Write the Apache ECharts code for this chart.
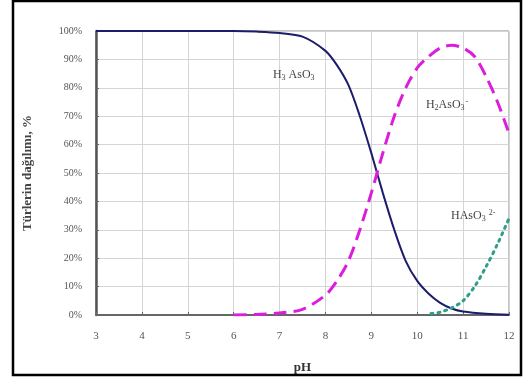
<!DOCTYPE html>
<html><head><meta charset="utf-8">
<script src="https://cdn.jsdelivr.net/npm/echarts@6/dist/echarts.min.js"></script>
<style>html,body{margin:0;padding:0;background:#fff}#c{width:523px;height:380px}</style>
</head><body><div id="c"></div>
<script>
// pH values and fraction (%)
var phH3 = [3, 4, 5, 6, 6.5, 7, 7.5, 8, 8.25, 8.5, 8.75, 9, 9.25, 9.5, 9.75, 10, 10.25, 10.5, 10.75, 11, 11.5, 12];
var valH3 = [100, 100, 100, 100, 99.8, 99.3, 98, 93, 88, 81, 70, 57, 43, 30, 19, 12, 7.5, 4.3, 2.3, 1.2, 0.4, 0.1];
var phH2 = [6, 6.5, 7, 7.5, 8, 8.25, 8.5, 8.75, 9, 9.25, 9.5, 9.75, 10, 10.25, 10.5, 10.75, 11, 11.25, 11.5, 11.75, 12];
var valH2 = [0, 0.2, 0.7, 2, 7, 12, 19, 30, 43, 57, 70, 80, 87, 91, 94, 95, 94, 91, 84, 75, 64];
var phH1 = [10.3, 10.5, 10.75, 11, 11.25, 11.5, 11.75, 12];
var valH1 = [0.5, 1, 2.5, 5, 10, 17, 25, 34];
var yTicks = [0, 10, 20, 30, 40, 50, 60, 70, 80, 90, 100];

function pairs(xs, ys) { return xs.map(function (x, i) { return [x, ys[i]]; }); }

var serif = '"Liberation Serif", "DejaVu Serif", serif';
var chart = echarts.init(document.getElementById('c'));
var richLab = {
  b: { fontFamily: serif, fontSize: 12, color: '#444' },
  s: { fontFamily: serif, fontSize: 8, color: '#444', verticalAlign: 'bottom', padding: [6, 0, 0, 0] },
  p: { fontFamily: serif, fontSize: 8, color: '#444', verticalAlign: 'top', padding: [0, 0, 6, 1] }
};
function lbl(coord, text) {
  return {
    symbol: 'rect', symbolSize: 1, itemStyle: { color: 'rgba(0,0,0,0)' },
    label: { show: true, formatter: text, rich: richLab, position: 'inside', color: '#444' },
    data: [{ coord: coord }]
  };
}
chart.setOption({
  animation: false,
  grid: { left: 96, right: 14, top: 31, bottom: 65, show: true, borderColor: '#888', borderWidth: 1 },
  graphic: [{ type: 'rect', shape: { x: 13, y: 1, width: 508, height: 374 },
    style: { fill: 'none', stroke: '#000', lineWidth: 2.5 }, silent: true }],
  xAxis: {
    type: 'value', min: 3, max: 12, interval: 1,
    name: 'pH', nameLocation: 'middle', nameGap: 46,
    nameTextStyle: { fontFamily: serif, fontWeight: 'bold', fontSize: 13, color: '#333' },
    axisLine: { lineStyle: { color: '#666', width: 2 } },
    axisTick: { inside: true, length: 3, lineStyle: { color: '#666' } },
    axisLabel: { fontFamily: serif, fontSize: 11, color: '#555', margin: 16 },
    splitLine: { lineStyle: { color: '#d4d4d4', width: 1 } }
  },
  yAxis: {
    type: 'value', min: 0, max: 100, interval: 10,
    name: 'Türlerin dağılımı, %', nameLocation: 'middle', nameGap: 62,
    nameTextStyle: { fontFamily: serif, fontWeight: 'bold', fontSize: 13, color: '#444' },
    axisLine: { show: true, lineStyle: { color: '#555', width: 2.5 } },
    axisTick: { show: true, inside: true, length: 3, lineStyle: { color: '#666' } },
    axisLabel: { fontFamily: serif, fontSize: 10, color: '#555', margin: 14,
      formatter: function (v) { return yTicks.indexOf(v) >= 0 ? v + '%' : ''; } },
    splitLine: { lineStyle: { color: '#d4d4d4', width: 1 } }
  },
  series: [
    { type: 'line', data: pairs(phH3, valH3), showSymbol: false, smooth: 0.3, z: 3,
      lineStyle: { color: '#1c1c6a', width: 2 },
      markPoint: lbl([7.31, 84.5], '{b|H}{s|3}{b| AsO}{s|3}') },
    { type: 'line', data: pairs(phH2, valH2), showSymbol: false, smooth: 0.3,
      lineStyle: { color: '#dc1edc', width: 3, type: [13, 7] },
      markPoint: lbl([10.65, 74], '{b|H}{s|2}{b|AsO}{s|3}{p|-}') },
    { type: 'line', data: pairs(phH1, valH1), showSymbol: false, smooth: 0.3,
      lineStyle: { color: '#2f9e88', width: 3, type: [2, 5], cap: 'round' },
      markPoint: lbl([11.22, 35], '{b|HAsO}{s|3}{p| 2-}') }
  ]
});
</script></body></html>
